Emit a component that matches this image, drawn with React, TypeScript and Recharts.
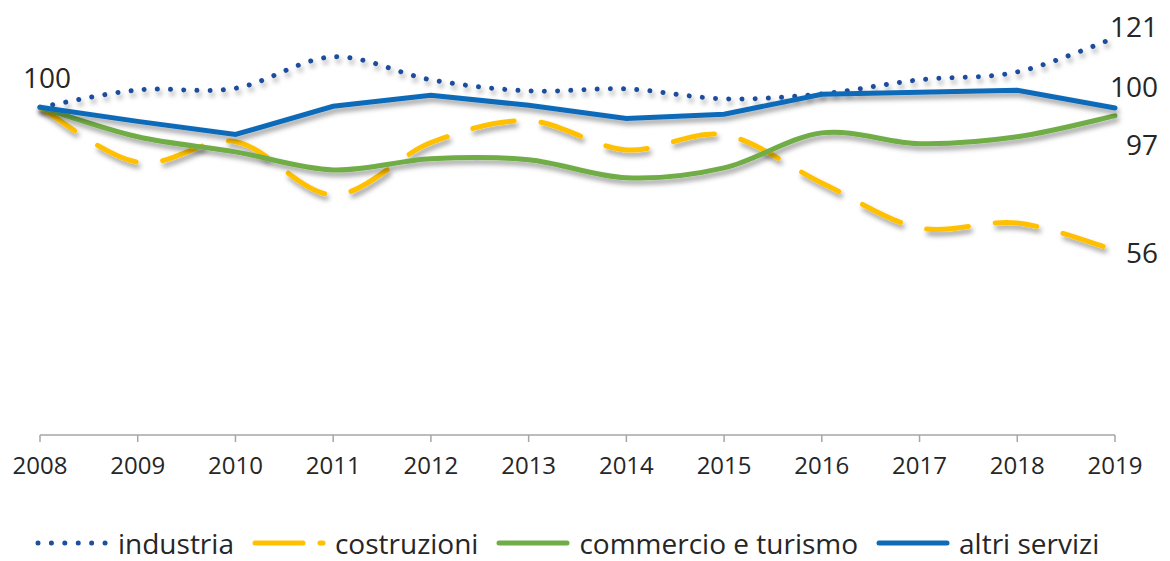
import React from 'react';
import { LineChart, Line, XAxis, YAxis, Legend } from 'recharts';

const years = ['2008', '2009', '2010', '2011', '2012', '2013', '2014', '2015', '2016', '2017', '2018', '2019'];
const industria = [100, 105.3, 105.8, 115.4, 108.4, 105, 105.6, 102.6, 104.1, 108.4, 110.8, 121.2];
const costruzioni = [100, 83.2, 89.5, 73.3, 89.2, 95.9, 87, 91.6, 76.9, 63.2, 64.7, 56.4];
const commercio = [100, 91, 86.4, 80.9, 84.3, 84, 78.5, 81.5, 92.2, 88.9, 91, 97.4];
const altriServizi = [100, 95.7, 91.7, 100.3, 103.7, 100.6, 96.6, 97.9, 104, 104.6, 105.2, 99.8];

const data = years.map((year, i) => ({
  year,
  industria: industria[i],
  costruzioni: costruzioni[i],
  commercio: commercio[i],
  altri: altriServizi[i],
}));

const FONT = '"Open Sans", sans-serif';
const TEXT = '#262626';

// curva "smussata" tipo Excel (Catmull-Rom -> Bezier)
const excelSmooth = (context: any) => {
  let pts: [number, number][] = [];
  return {
    areaStart() {},
    areaEnd() {},
    lineStart() { pts = []; },
    point(x: number, y: number) { pts.push([+x, +y]); },
    lineEnd() {
      const n = pts.length;
      if (!n) return;
      context.moveTo(pts[0][0], pts[0][1]);
      for (let i = 0; i < n - 1; i++) {
        const p0 = pts[Math.max(i - 1, 0)];
        const p1 = pts[i];
        const p2 = pts[i + 1];
        const p3 = pts[Math.min(i + 2, n - 1)];
        context.bezierCurveTo(
          p1[0] + (p2[0] - p0[0]) / 6, p1[1] + (p2[1] - p0[1]) / 6,
          p2[0] - (p3[0] - p1[0]) / 6, p2[1] - (p3[1] - p1[1]) / 6,
          p2[0], p2[1],
        );
      }
    },
  };
};

// serie: stile linea + spostamento dell'etichetta finale
const SERIES = [
  { key: 'industria', name: 'industria', color: '#1F4E9C', dash: '0.01 13.2', type: excelSmooth, dy: -12 },
  { key: 'costruzioni', name: 'costruzioni', color: '#FFC000', dash: '42 27', type: excelSmooth, dy: 2 },
  { key: 'commercio', name: 'commercio e turismo', color: '#70AD47', dash: undefined, type: excelSmooth, dy: 28 },
  { key: 'altri', name: 'altri servizi', color: '#0F6AB8', dash: undefined, type: 'linear', dy: -22 },
];

const LEGEND_ICON_DASH: Record<string, string | undefined> = {
  industria: '0.01 13.4',
  costruzioni: '48 17',
};

const makeLabel = (dy: number, withStart: boolean) => (props: any) => {
  const { x, y, index, value } = props;
  if (index === years.length - 1) {
    return (
      <text key={`l-${index}`} x={x + 43} y={y + dy} textAnchor="end" dominantBaseline="central"
        fontSize={28} fontFamily={FONT} fill={TEXT}>
        {Math.round(value)}
      </text>
    );
  }
  if (withStart && index === 0) {
    return (
      <text key={`l-${index}`} x={x + 7} y={y - 30} textAnchor="middle" dominantBaseline="central"
        fontSize={28} fontFamily={FONT} fill={TEXT}>
        {Math.round(value)}
      </text>
    );
  }
  return null;
};

const renderLegend = () => (
  <div style={{ display: 'flex', justifyContent: 'flex-start', alignItems: 'center', height: 44, marginLeft: -5, paddingTop: 8, boxSizing: 'border-box' }}>
    {SERIES.map((s) => (
      <div key={s.key} style={{ display: 'flex', alignItems: 'center', marginRight: 18 }}>
        <svg width={74} height={10}>
          <line x1={3} y1={5} x2={71} y2={5} stroke={s.color} strokeWidth={5}
            strokeLinecap="round" strokeDasharray={LEGEND_ICON_DASH[s.key]} />
        </svg>
        <span style={{ fontFamily: FONT, fontSize: 28, color: TEXT, marginLeft: 9, lineHeight: '36px', whiteSpace: 'nowrap' }}>{s.name}</span>
      </div>
    ))}
  </div>
);

export default function App() {
  return (
    <LineChart width={1154} height={553} data={data} margin={{ top: 1, right: 47, left: 32, bottom: 0 }}>
      <defs>
        <filter id="ombra" x="-5%" y="-20%" width="110%" height="160%">
          <feDropShadow dx={2} dy={4} stdDeviation={2.5} floodColor="#000" floodOpacity={0.38} />
        </filter>
      </defs>
      <XAxis dataKey="year" height={82} tickSize={7} tickMargin={15} fontSize={24} fontFamily={FONT}
        axisLine={{ stroke: '#A6A6A6', strokeWidth: 1.5 }} tickLine={{ stroke: '#A6A6A6', strokeWidth: 1.5 }}
        tick={{ fontSize: 24, fontFamily: FONT, fill: TEXT }} interval={0} />
      <YAxis hide domain={[0, 130]} allowDataOverflow />
      {SERIES.map((s, i) => (
        <Line key={s.key} dataKey={s.key} name={s.name} type={s.type as any} stroke={s.color}
          strokeWidth={5} strokeDasharray={s.dash} strokeLinecap="round" dot={false}
          activeDot={false} isAnimationActive={false} filter="url(#ombra)"
          label={makeLabel(s.dy, i === 3)} />
      ))}
      <Legend verticalAlign="bottom" content={renderLegend} />
    </LineChart>
  );
}
